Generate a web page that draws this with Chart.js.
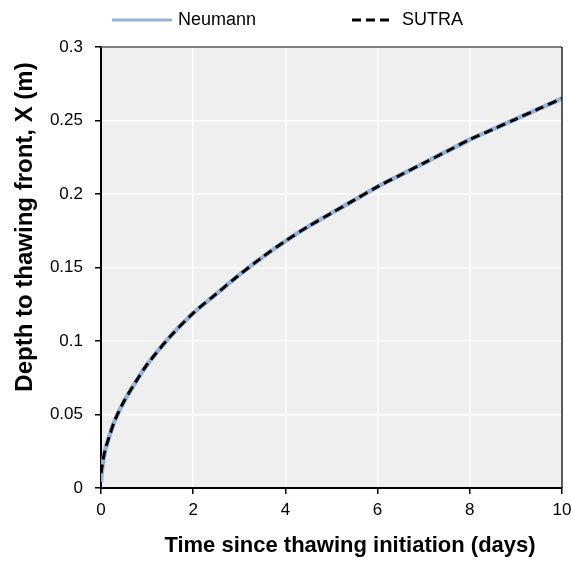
<!DOCTYPE html>
<html lang="en">
<head>
    <meta charset="UTF-8">
    <title>Thawing front</title>
    <script src="https://cdn.jsdelivr.net/npm/chart.js"></script>
    <style>
        html, body { margin: 0; padding: 0; background: #fff; }
        #wrap { width: 571px; height: 563px; }
    </style>
</head>
<body>
<div id="wrap"><canvas id="chart" width="571" height="563"></canvas></div>
<script>
    // time (days) and depth to thawing front (m)
    const timeDays = [0, 0.02, 0.05, 0.1, 0.2, 0.3, 0.5, 0.75, 1, 1.5, 2, 2.5, 3, 3.5, 4, 4.5, 5, 5.5, 6, 6.5, 7, 7.5, 8, 8.5, 9, 9.5, 10];
    const neumannDepth = [0.004, 0.012, 0.019, 0.027, 0.037, 0.046, 0.059, 0.072, 0.084, 0.103, 0.119, 0.132, 0.145, 0.157, 0.168, 0.178, 0.187, 0.196, 0.205, 0.213, 0.221, 0.229, 0.237, 0.244, 0.251, 0.258, 0.265];
    const sutraDepth = [0.010, 0.014, 0.020, 0.027, 0.037, 0.046, 0.059, 0.072, 0.084, 0.103, 0.119, 0.132, 0.145, 0.157, 0.168, 0.178, 0.187, 0.196, 0.205, 0.213, 0.221, 0.229, 0.237, 0.244, 0.251, 0.258, 0.265];
    const xTicks = [0, 2, 4, 6, 8, 10];
    const yTicks = [0, 0.05, 0.1, 0.15, 0.2, 0.25, 0.3];

    const xyPoints = (xs, ys) => xs.map((x, i) => ({ x: x, y: ys[i] }));
    const FONT = '"Liberation Sans", Arial, sans-serif';

    // grey plot background + frame + axis titles + legend
    const decor = {
        id: 'decor',
        beforeDraw(chart) {
            const { ctx, chartArea: a } = chart;
            ctx.save();
            ctx.fillStyle = '#efefef';
            ctx.fillRect(a.left, a.top, a.right - a.left, a.bottom - a.top);
            ctx.restore();
        },
        afterDraw(chart) {
            const { ctx, chartArea: a } = chart;
            ctx.save();
            ctx.strokeStyle = '#555';
            ctx.lineWidth = 1.5;
            ctx.beginPath();
            ctx.moveTo(a.left, a.top);
            ctx.lineTo(a.right, a.top);
            ctx.stroke();
            ctx.strokeStyle = '#222';
            ctx.beginPath();
            ctx.moveTo(a.right, a.top);
            ctx.lineTo(a.right, a.bottom);
            ctx.stroke();

            ctx.fillStyle = '#000';
            ctx.textAlign = 'center';
            ctx.textBaseline = 'middle';
            ctx.font = 'bold 22px ' + FONT;
            ctx.fillText('Time since thawing initiation (days)', 350, 546);
            ctx.font = 'bold 24px ' + FONT;
            ctx.translate(25, 227);
            ctx.rotate(-Math.PI / 2);
            ctx.fillText('Depth to thawing front, X (m)', 0, 0);
            ctx.restore();

            // legend
            const ds = chart.data.datasets;
            ctx.save();
            ctx.font = '18px ' + FONT;
            ctx.textBaseline = 'middle';
            ctx.textAlign = 'left';
            ctx.fillStyle = '#000';
            ctx.lineWidth = 3;
            ctx.strokeStyle = ds[0].borderColor;
            ctx.beginPath(); ctx.moveTo(112, 20); ctx.lineTo(172, 20); ctx.stroke();
            ctx.fillText(ds[0].label, 178, 20);
            ctx.strokeStyle = ds[1].borderColor;
            ctx.setLineDash(ds[1].borderDash);
            ctx.beginPath(); ctx.moveTo(352, 20); ctx.lineTo(394, 20); ctx.stroke();
            ctx.setLineDash([]);
            ctx.fillText(ds[1].label, 402, 20);
            ctx.restore();
        }
    };

    const tickFont = { family: FONT, size: 17 };

    new Chart(document.getElementById('chart'), {
        type: 'scatter',
        data: {
            datasets: [{
                label: 'Neumann',
                data: xyPoints(timeDays, neumannDepth),
                showLine: true,
                borderColor: '#95b3d7',
                borderWidth: 4.5,
                pointRadius: 0,
                tension: 0.3,
                order: 1
            }, {
                label: 'SUTRA',
                data: xyPoints(timeDays, sutraDepth),
                showLine: true,
                borderColor: '#000000',
                borderWidth: 3,
                borderDash: [9, 5],
                pointRadius: 0,
                tension: 0.3,
                order: 0
            }]
        },
        options: {
            responsive: false,
            animation: false,
            layout: { padding: { left: 0, right: 9, top: 47, bottom: 0 } },
            plugins: {
                legend: { display: false },
                tooltip: { enabled: false }
            },
            scales: {
                x: {
                    type: 'linear',
                    min: 0,
                    max: 10,
                    afterBuildTicks: s => { s.ticks = xTicks.map(v => ({ value: v })); },
                    afterFit: s => { s.height = 75; s.paddingLeft = 0; s.paddingRight = 0; },
                    grid: { color: '#ffffff', lineWidth: 1.5, tickColor: '#000', tickLength: 6 },
                    border: { color: '#000', width: 2 },
                    ticks: { color: '#000', font: tickFont, padding: 6, maxRotation: 0 }
                },
                y: {
                    min: 0,
                    max: 0.3,
                    afterBuildTicks: s => { s.ticks = yTicks.map(v => ({ value: v })); },
                    afterFit: s => { s.width = 101; },
                    grid: { color: '#ffffff', lineWidth: 1.5, tickColor: '#000', tickLength: 6 },
                    border: { color: '#000', width: 2 },
                    ticks: { color: '#000', font: tickFont, padding: 12, callback: v => String(v) }
                }
            }
        },
        plugins: [decor]
    });
</script>
</body>
</html>
